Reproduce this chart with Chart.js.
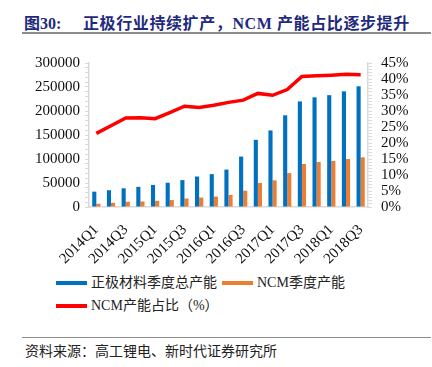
<!DOCTYPE html>
<html>
<head>
<meta charset="utf-8">
<script src="https://cdn.jsdelivr.net/npm/chart.js@4"></script>
<style>
  body {
    margin: 0;
    width: 432px;
    height: 367px;
    background: #fff;
    position: relative;
    overflow: hidden;
    font-family: "Liberation Serif", "Noto Sans CJK SC", serif;
  }
  #title {
    position: absolute;
    top: 10px;
    left: 24px;
    font-size: 16px;
    font-weight: bold;
    color: #1f2a7c;
    white-space: nowrap;
  }
  #title .fig { position: absolute; left: 0; }
  #title .txt { position: absolute; left: 59px; letter-spacing: 0.6px; }
  .rule {
    position: absolute;
    left: 22px;
    width: 409px;
    background: #8c8c8c;
  }
  #chart-box {
    position: absolute;
    top: 45px;
    left: 0;
    width: 432px;
    height: 220px;
  }
  #legend {
    position: absolute;
    top: 273px;
    left: 56px;
    width: 360px;
    font-size: 14px;
    color: #222;
  }
  .item {
    position: absolute;
    height: 20px;
    line-height: 20px;
    white-space: nowrap;
  }
  .item .swatch {
    position: absolute;
    left: 0;
    top: 8px;
    width: 31px;
    height: 4px;
  }
  .item .label { position: absolute; left: 35px; }
  #source {
    position: absolute;
    top: 340px;
    left: 25px;
    font-size: 14px;
    color: #222;
    white-space: nowrap;
  }
</style>
</head>
<body>
<div id="title"><span class="fig">图30:</span><span class="txt">正极行业持续扩产，NCM 产能占比逐步提升</span></div>
<div class="rule" style="top:32px;height:2px"></div>
<div id="chart-box"><canvas id="capacityChart"></canvas></div>
<div id="legend"></div>
<div class="rule" style="top:337px;height:1px"></div>
<div id="source">资料来源：高工锂电、新时代证券研究所</div>

<script>
// Quarters on the x axis
const quarters = [
  "2014Q1", "2014Q2", "2014Q3", "2014Q4",
  "2015Q1", "2015Q2", "2015Q3", "2015Q4",
  "2016Q1", "2016Q2", "2016Q3", "2016Q4",
  "2017Q1", "2017Q2", "2017Q3", "2017Q4",
  "2018Q1", "2018Q2", "2018Q3",
];

// 正极材料季度总产能 (left axis)
const totalCapacity = [
  32000, 35000, 39000, 42000, 46000, 50500, 56000, 63500, 68500, 78000,
  105000, 140000, 159500, 191000, 220000, 228500, 233000, 241000, 251500,
];

// NCM季度产能 (left axis)
const ncmCapacity = [
  6800, 8800, 10900, 11500, 12900, 14400, 17700, 19700, 21800, 25300,
  34000, 50000, 55500, 70500, 89500, 93700, 95800, 99900, 103500,
];

// NCM产能占比 in % (right axis)
const ncmShare = [
  23.0, 25.4, 27.8, 27.9, 27.6, 29.5, 31.5, 31.1, 31.8, 32.7,
  33.4, 35.5, 34.9, 36.7, 40.8, 41.0, 41.2, 41.5, 41.3,
];

const seriesNames = ["正极材料季度总产能", "NCM季度产能", "NCM产能占比（%）"];

document.addEventListener("DOMContentLoaded", function () {
  const tickFont = { family: "Liberation Serif", size: 15 };
  const axisGrey = "#d9d9d9";

  const chart = new Chart(document.getElementById("capacityChart"), {
    type: "bar",
    data: {
      labels: quarters,
      datasets: [
        {
          label: seriesNames[0],
          data: totalCapacity,
          backgroundColor: "#0070C0",
          yAxisID: "y",
          order: 1,
        },
        {
          label: seriesNames[1],
          data: ncmCapacity,
          backgroundColor: "#ED7D31",
          yAxisID: "y",
          order: 1,
        },
        {
          type: "line",
          label: seriesNames[2],
          data: ncmShare,
          borderColor: "#FF0000",
          backgroundColor: "#FF0000",
          borderWidth: 3.5,
          pointRadius: 0,
          tension: 0,
          yAxisID: "y1",
          order: 0,
        },
      ],
    },
    options: {
      responsive: true,
      maintainAspectRatio: false,
      animation: false,
      categoryPercentage: 0.56,
      barPercentage: 1.0,
      layout: { padding: { top: 16, left: 0, right: 0, bottom: 0 } },
      plugins: {
        legend: { display: false },
        tooltip: { enabled: false },
      },
      scales: {
        x: {
          grid: { display: false },
          border: { color: axisGrey, width: 1.5 },
          ticks: {
            autoSkip: false,
            maxRotation: 45,
            minRotation: 45,
            padding: 6,
            color: "#111",
            font: tickFont,
            callback: (v, i) => (i % 2 === 0 ? quarters[i] : ""),
          },
          afterFit: (s) => { s.height = 58; },
        },
        y: {
          position: "left",
          min: 0,
          max: 300000,
          grid: { drawOnChartArea: false, color: axisGrey, tickLength: 4 },
          border: { color: axisGrey, width: 1.5 },
          ticks: {
            stepSize: 10000,
            autoSkip: false,
            padding: 5,
            color: "#111",
            font: tickFont,
            callback: (v) => (v % 50000 === 0 ? v : ""),
          },
          afterFit: (s) => { s.width = 89; },
        },
        y1: {
          position: "right",
          min: 0,
          max: 45,
          grid: { drawOnChartArea: false, color: axisGrey, tickLength: 4 },
          border: { color: axisGrey, width: 1.5 },
          ticks: {
            stepSize: 1,
            autoSkip: false,
            padding: 9,
            color: "#111",
            font: tickFont,
            callback: (v) => (v % 5 === 0 ? v + "%" : ""),
          },
          afterFit: (s) => { s.width = 64; },
        },
      },
    },
  });

  // Build the legend from the chart's datasets (two rows like the source)
  const legend = document.getElementById("legend");
  const spots = [
    { left: 0, top: 0 },
    { left: 166, top: 0 },
    { left: 0, top: 23 },
  ];
  chart.data.datasets.forEach((ds, i) => {
    const item = document.createElement("div");
    item.className = "item";
    item.style.left = spots[i].left + "px";
    item.style.top = spots[i].top + "px";
    const colour = ds.type === "line" ? ds.borderColor : ds.backgroundColor;
    item.innerHTML = `<span class="swatch" style="background:${colour}"></span><span class="label">${ds.label}</span>`;
    legend.appendChild(item);
  });
});
</script>
</body>
</html>
